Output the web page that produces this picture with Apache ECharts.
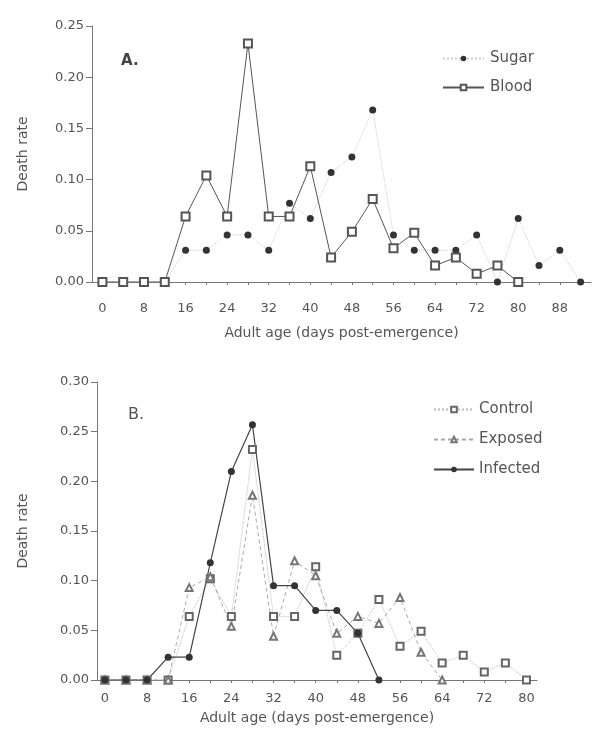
<!DOCTYPE html>
<html>
<head>
<meta charset="utf-8">
<script src="https://cdn.jsdelivr.net/npm/echarts@6/dist/echarts.min.js"></script>
<style>
  html, body { margin: 0; padding: 0; background: #fff; }
  #chart { width: 593px; height: 734px; }
</style>
</head>
<body>
<div id="chart"></div>
<script>
// panel A: sugar vs blood fed
var daysA = [0, 4, 8, 12, 16, 20, 24, 28, 32, 36, 40, 44, 48, 52, 56, 60, 64, 68, 72, 76, 80, 84, 88, 92];
var sugarRate = [0, 0, 0, 0, 0.031, 0.031, 0.046, 0.046, 0.031, 0.077, 0.062, 0.107, 0.122, 0.168,
  0.046, 0.031, 0.031, 0.031, 0.046, 0, 0.062, 0.016, 0.031, 0];
var bloodRate = [0, 0, 0, 0, 0.064, 0.104, 0.064, 0.233, 0.064, 0.064, 0.113, 0.024, 0.049, 0.081,
  0.033, 0.048, 0.016, 0.024, 0.008, 0.016, 0];

// panel B: control / exposed / infected
var daysB = [0, 4, 8, 12, 16, 20, 24, 28, 32, 36, 40, 44, 48, 52, 56, 60, 64, 68, 72, 76, 80];
var controlRate = [0, 0, 0, 0, 0.064, 0.102, 0.064, 0.232, 0.064, 0.064, 0.114, 0.025, 0.047, 0.081,
  0.034, 0.049, 0.017, 0.025, 0.008, 0.017, 0];
var exposedRate = [0, 0, 0, 0, 0.093, 0.104, 0.054, 0.186, 0.044, 0.120, 0.105, 0.047, 0.064, 0.057,
  0.083, 0.028, 0];
var infectedRate = [0, 0, 0, 0.023, 0.023, 0.118, 0.210, 0.257, 0.095, 0.095, 0.070, 0.070, 0.047, 0];

var ticksA = [0, 4, 8, 12, 16, 20, 24, 28, 32, 36, 40, 44, 48, 52, 56, 60, 64, 68, 72, 76, 80, 84, 88, 92];
var labelsA = [0, 8, 16, 24, 32, 40, 48, 56, 64, 72, 80, 88];
var ticksB = [0, 4, 8, 12, 16, 20, 24, 28, 32, 36, 40, 44, 48, 52, 56, 60, 64, 68, 72, 76, 80];
var labelsB = [0, 8, 16, 24, 32, 40, 48, 56, 64, 72, 80];

function pairs(xs, ys) {
  return ys.map(function (v, i) { return [xs[i], v]; });
}

var FONT = 'DejaVu Sans';
var TXT = '#555';
var AX = '#777';

function xAxisOf(idx, min, max, ticks, labels, gap, nameGap) {
  return {
    type: 'value', gridIndex: idx, min: min, max: max,
    name: 'Adult age (days post-emergence)', nameLocation: 'middle', nameGap: nameGap,
    nameTextStyle: { fontFamily: FONT, fontSize: 14, color: TXT },
    axisLine: { onZero: false, lineStyle: { color: AX, width: 1 } },
    axisTick: { customValues: ticks, length: 3, lineStyle: { color: AX } },
    axisLabel: { customValues: labels, margin: gap, fontFamily: FONT, fontSize: 13, color: TXT },
    splitLine: { show: false }
  };
}

function yAxisOf(idx, max, nameGap) {
  return {
    type: 'value', gridIndex: idx, min: 0, max: max, interval: 0.05,
    name: 'Death rate', nameLocation: 'middle', nameGap: nameGap,
    nameTextStyle: { fontFamily: FONT, fontSize: 14, color: TXT },
    axisLine: { show: true, onZero: false, lineStyle: { color: AX, width: 1 } },
    axisTick: { show: true, length: 6, lineStyle: { color: AX } },
    axisLabel: { margin: 8, fontFamily: FONT, fontSize: 13, color: TXT,
      formatter: function (v) { return v.toFixed(2); } },
    splitLine: { show: false }
  };
}

var chart = echarts.init(document.getElementById('chart'));

chart.setOption({
  backgroundColor: '#fff',
  animation: false,
  title: [
    { text: 'A.', left: 116, top: 49, textStyle: { fontFamily: FONT, fontSize: 15, fontWeight: 'bold', color: '#444' } },
    { text: 'B.', left: 123, top: 402, textStyle: { fontFamily: FONT, fontSize: 16, fontWeight: 'normal', color: '#555' } }
  ],
  legend: [
    {
      data: ['Sugar', 'Blood'], orient: 'vertical', left: 437, top: 46,
      itemWidth: 41, itemHeight: 7, itemGap: 14,
      textStyle: { fontFamily: FONT, fontSize: 15, color: TXT, padding: [0, 0, 0, 1] }
    },
    {
      data: ['Control', 'Exposed', 'Infected'], orient: 'vertical', left: 428, top: 397,
      itemWidth: 40, itemHeight: 7, itemGap: 15,
      textStyle: { fontFamily: FONT, fontSize: 15, color: TXT, padding: [0, 0, 0, 0] }
    }
  ],
  grid: [
    { left: 92, top: 26, width: 499, height: 256 },
    { left: 97, top: 382, width: 440, height: 298 }
  ],
  xAxis: [
    xAxisOf(0, -2, 94, ticksA, labelsA, 20, 44),
    xAxisOf(1, -1.5, 82, ticksB, labelsB, 12, 31)
  ],
  yAxis: [
    yAxisOf(0, 0.25, 62),
    yAxisOf(1, 0.30, 67)
  ],
  series: [
    {
      name: 'Sugar', type: 'line', xAxisIndex: 0, yAxisIndex: 0,
      data: pairs(daysA, sugarRate),
      symbol: 'circle', symbolSize: 7,
      itemStyle: { color: '#333' },
      lineStyle: { color: '#ccc', width: 1, type: 'dotted' }
    },
    {
      name: 'Blood', type: 'line', xAxisIndex: 0, yAxisIndex: 0,
      data: pairs(daysA, bloodRate),
      symbol: 'emptyRect', symbolSize: 8,
      itemStyle: { color: '#555', borderWidth: 1.2 },
      lineStyle: { color: '#555', width: 1 }
    },
    {
      name: 'Control', type: 'line', xAxisIndex: 1, yAxisIndex: 1,
      data: pairs(daysB, controlRate),
      symbol: 'emptyRect', symbolSize: 7,
      itemStyle: { color: '#666', borderWidth: 1 },
      lineStyle: { color: '#bbb', width: 1, type: 'dotted' }
    },
    {
      name: 'Exposed', type: 'line', xAxisIndex: 1, yAxisIndex: 1,
      data: pairs(daysB, exposedRate),
      symbol: 'emptyTriangle', symbolSize: 7,
      itemStyle: { color: '#777', borderWidth: 1 },
      lineStyle: { color: '#aaa', width: 1, type: [4, 3] }
    },
    {
      name: 'Infected', type: 'line', xAxisIndex: 1, yAxisIndex: 1,
      data: pairs(daysB, infectedRate),
      symbol: 'circle', symbolSize: 7,
      itemStyle: { color: '#333' },
      lineStyle: { color: '#444', width: 1.2 }
    }
  ]
});
</script>
</body>
</html>
